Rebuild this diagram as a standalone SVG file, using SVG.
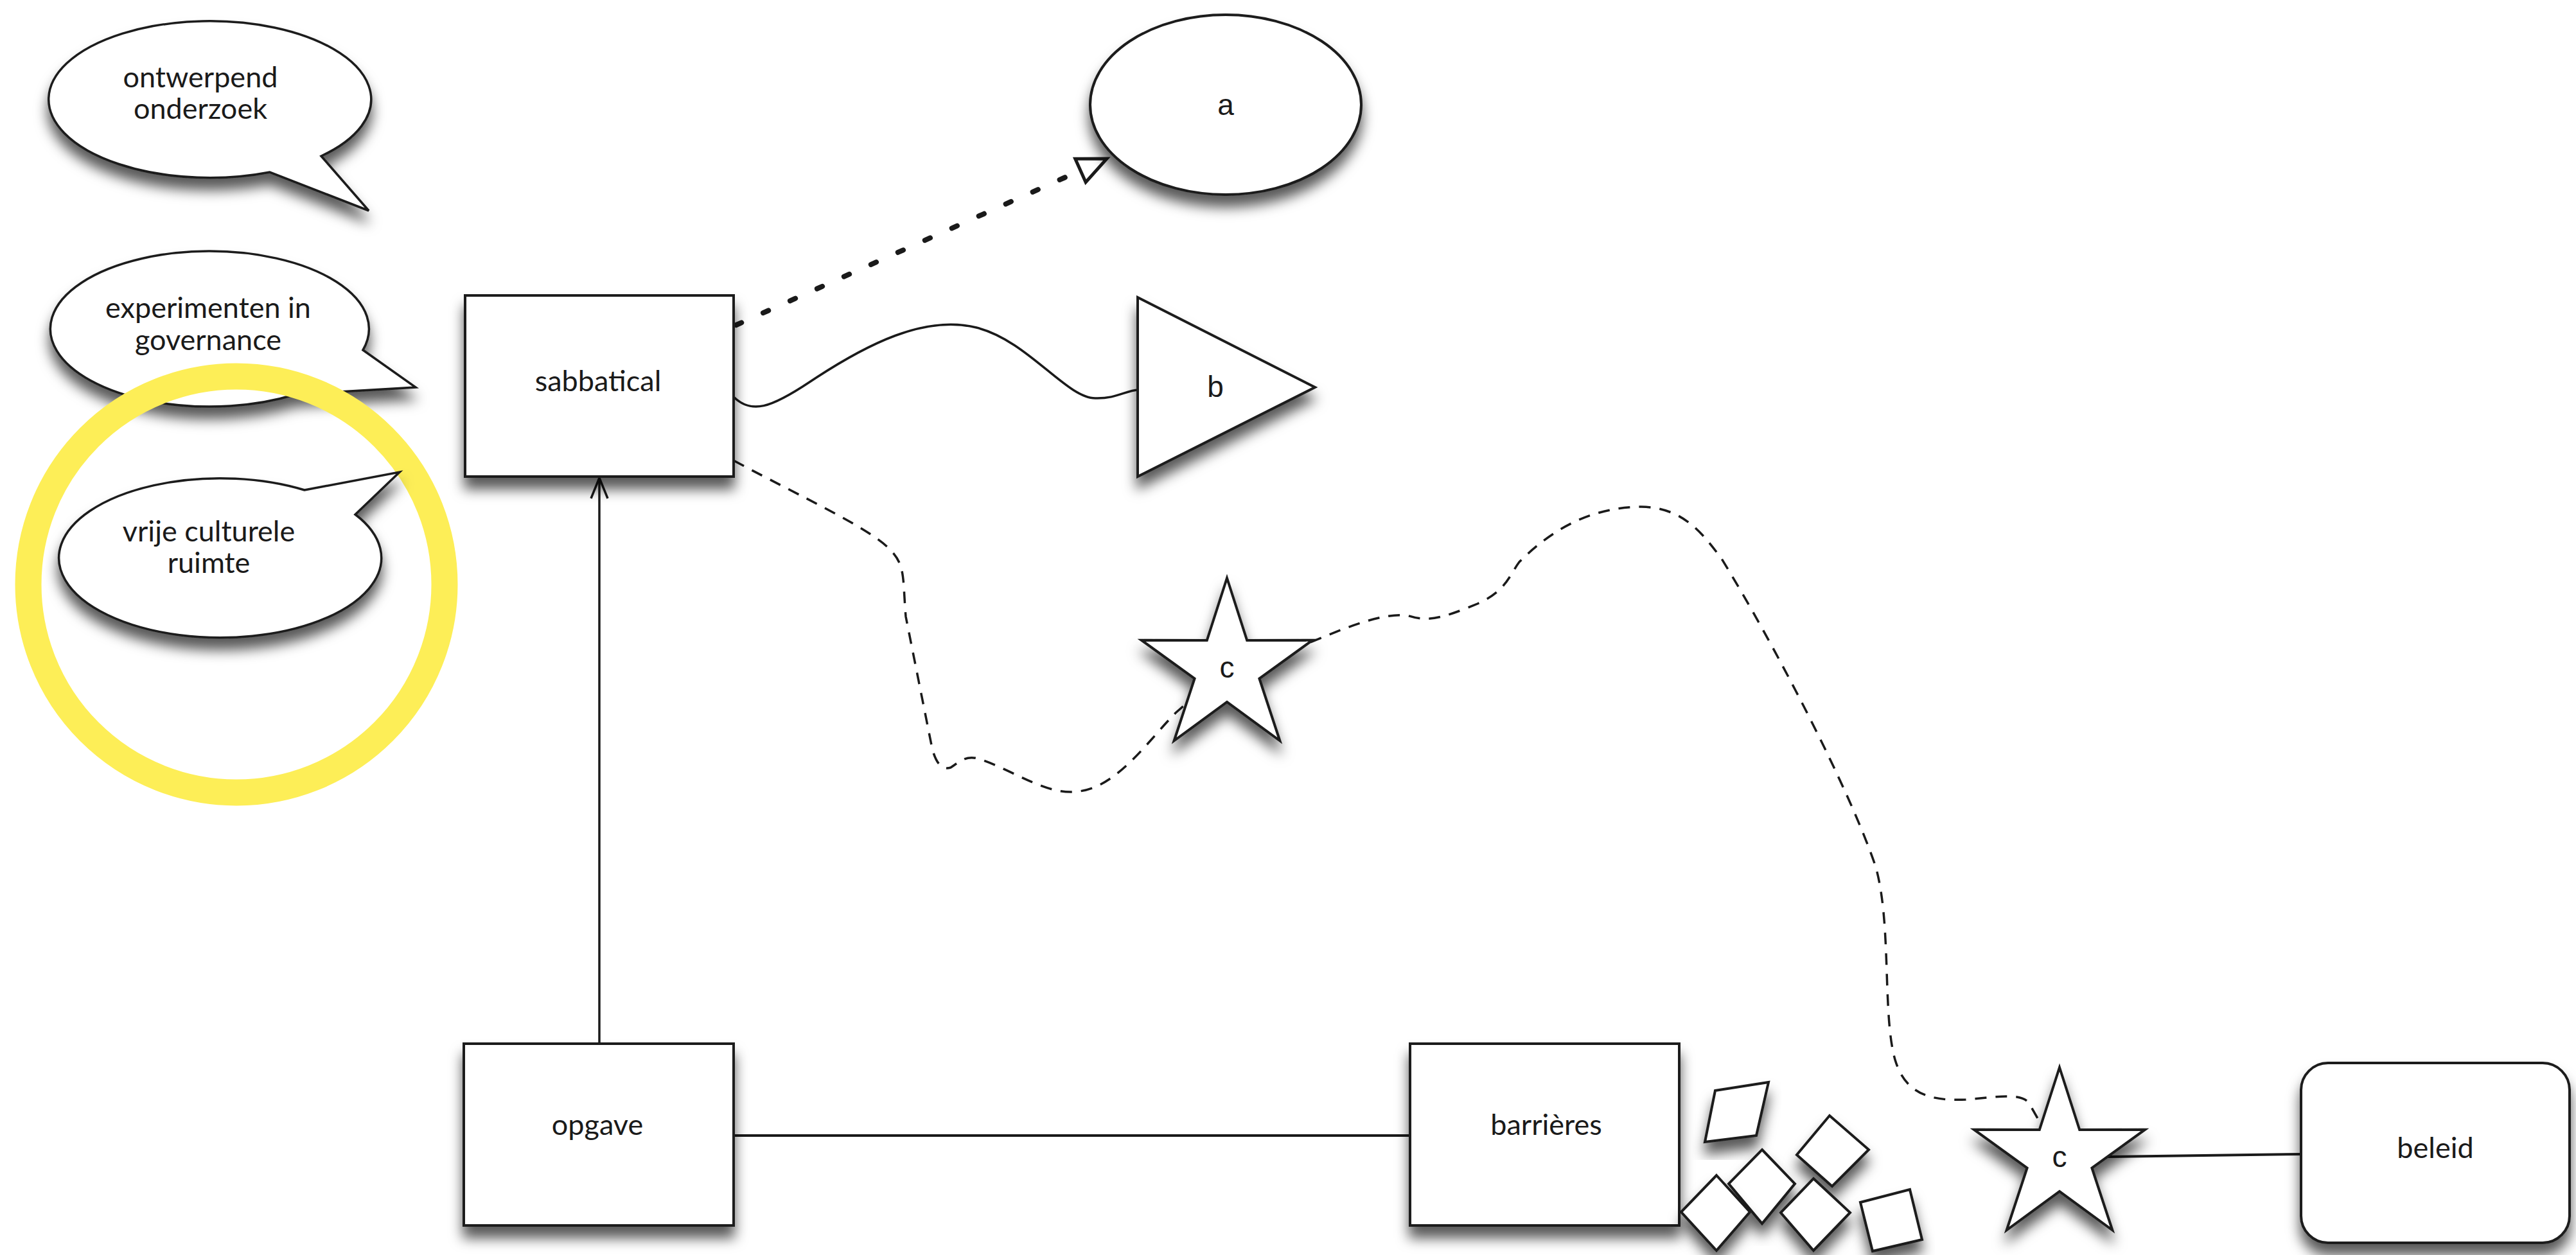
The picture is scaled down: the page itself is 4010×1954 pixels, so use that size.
<svg xmlns="http://www.w3.org/2000/svg" xmlns:xlink="http://www.w3.org/1999/xlink" width="4010" height="1954" viewBox="0 0 4010 1954">
<style>
.shape{fill:#ffffff;stroke:#1a1a1a;stroke-width:4;filter:url(#shadow)}
.bubble{fill:#ffffff;stroke:#1a1a1a;stroke-width:3.5;stroke-linejoin:miter;filter:url(#shadow)}
.lbl{font-family:Lato,"Liberation Sans",sans-serif;font-size:45px;fill:#1a1a1a;text-anchor:middle}
.sym{font-family:"Liberation Sans",Arial,sans-serif;font-size:46px;fill:#1a1a1a;text-anchor:middle}
.conn{fill:none;stroke:#1a1a1a}
.solid{stroke-width:3.5}
.dash{stroke-width:3.5;stroke-dasharray:18 14}
.dots{stroke-width:8;stroke-dasharray:9 37;stroke-linecap:round}
</style>
<defs>
<filter id="shadow" x="-20%" y="-20%" width="140%" height="150%">
<feDropShadow dx="0" dy="18" stdDeviation="10" flood-color="#000" flood-opacity="0.65"/>
</filter>
<marker id="hollowTri" markerUnits="userSpaceOnUse" viewBox="0 0 45 40" refX="45" refY="20" markerWidth="45" markerHeight="40" orient="auto" overflow="visible">
<path d="M0,0 L45,20 L0,40 Z" fill="#ffffff" stroke="#1a1a1a" stroke-width="5" stroke-linejoin="miter"/>
</marker>
<polygon id="star" points="0,-140 31.2,-42.9 133.2,-43.3 50.4,16.4 82.3,113.3 0,53 -82.3,113.3 -50.4,16.4 -133.2,-43.3 -31.2,-42.9"/>
</defs>
<rect width="4010" height="1954" fill="#ffffff"/>

<g id="connectors">
<path class="conn dots" d="M1146,506 L1723,247" marker-end="url(#hollowTri)"/>
<path class="conn solid" d="M1142,618 C1170,645 1200,635 1260,595 C1350,535 1440,490 1520,510 C1600,530 1660,620 1705,620 C1738,621 1752,608 1772,607"/>
<path class="conn dash" d="M1142,717 C1250,775 1350,820 1385,855 C1410,880 1405,900 1410,960 L1450,1160 C1455,1185 1465,1200 1480,1195 C1495,1185 1505,1175 1525,1182 C1580,1200 1630,1240 1680,1232 C1740,1225 1790,1150 1830,1110 L1910,1040"/>
<path class="conn dash" d="M2040,1000 C2100,975 2150,955 2190,958 C2220,968 2240,965 2300,940 C2345,920 2350,895 2365,875 C2420,820 2480,790 2555,789 C2620,790 2650,830 2680,870 C2760,1000 2880,1230 2920,1350 C2945,1440 2930,1580 2950,1650 C2965,1700 3000,1715 3060,1712 C3110,1708 3150,1700 3160,1720 L3206,1802"/>
<path class="conn solid" d="M933,1625 L933,746"/>
<path class="conn solid" d="M920,776 L933,744 L946,776"/>
<path class="conn" stroke-width="4" d="M1142,1768 L2195,1768"/>
<path class="conn" stroke-width="4" d="M3206,1802 L3583,1797"/>
</g>

<g id="bubble-ontwerpend">
<path class="bubble" d="M500,243 L574,328 L420,268 A251,122 0 1 1 500,243 Z"/>
<text class="lbl" x="312" y="136">ontwerpend</text>
<text class="lbl" x="312" y="185">onderzoek</text>
</g>

<g id="bubble-experimenten">
<path class="bubble" d="M565,545 L647,603 L460,614 A248,121 0 1 1 565,545 Z"/>
<text class="lbl" x="324" y="495">experimenten in</text>
<text class="lbl" x="324" y="545">governance</text>
</g>

<g id="highlight-ring">
<circle cx="368" cy="910" r="324" fill="none" stroke="#FDEE57" stroke-width="41"/>
</g>

<g id="bubble-vrije">
<path class="bubble" d="M474,763 L622,735 L553,801 A251,124 0 1 1 474,763 Z"/>
<text class="lbl" x="325" y="843">vrije culturele</text>
<text class="lbl" x="325" y="892">ruimte</text>
</g>

<g id="node-sabbatical">
<rect class="shape" x="724" y="460" width="418" height="282"/>
<text class="lbl" x="931" y="609">sabbatical</text>
</g>

<g id="node-a">
<ellipse class="shape" cx="1908" cy="163" rx="211" ry="140"/>
<text class="sym" x="1908" y="179">a</text>
</g>

<g id="node-b">
<polygon class="shape" points="1771,463 2047,603 1771,742"/>
<text class="sym" x="1892" y="618">b</text>
</g>

<g id="node-c1" transform="translate(1910,1040)">
<use xlink:href="#star" class="shape"/>
<text class="sym" x="0" y="15">c</text>
</g>

<g id="node-opgave">
<rect class="shape" x="722" y="1625" width="420" height="283"/>
<text class="lbl" x="930" y="1767">opgave</text>
</g>

<g id="node-barrieres">
<rect class="shape" x="2195" y="1625" width="419" height="283"/>
<text class="lbl" x="2407" y="1767">barrières</text>
</g>

<g id="barrier-pieces">
<polygon class="shape" stroke-width="3.5" points="2670,1698 2753,1685 2734,1768 2654,1778"/>
<polygon class="shape" stroke-width="3.5" points="2848,1737 2909,1790 2852,1847 2797,1798"/>
<polygon class="shape" stroke-width="3.5" points="2743,1790 2794,1843 2743,1905 2691,1843"/>
<polygon class="shape" stroke-width="3.5" points="2672,1830 2724,1887 2672,1947 2617,1887"/>
<polygon class="shape" stroke-width="3.5" points="2823,1835 2880,1888 2823,1947 2772,1888"/>
<polygon class="shape" stroke-width="3.5" points="2896,1872 2973,1852 2992,1930 2915,1948"/>
</g>

<g id="node-c2" transform="translate(3206,1802)">
<use xlink:href="#star" class="shape"/>
<text class="sym" x="0" y="15">c</text>
</g>

<g id="node-beleid">
<rect class="shape" x="3582" y="1655" width="418" height="280" rx="42" ry="42"/>
<text class="lbl" x="3791" y="1803">beleid</text>
</g>
</svg>
